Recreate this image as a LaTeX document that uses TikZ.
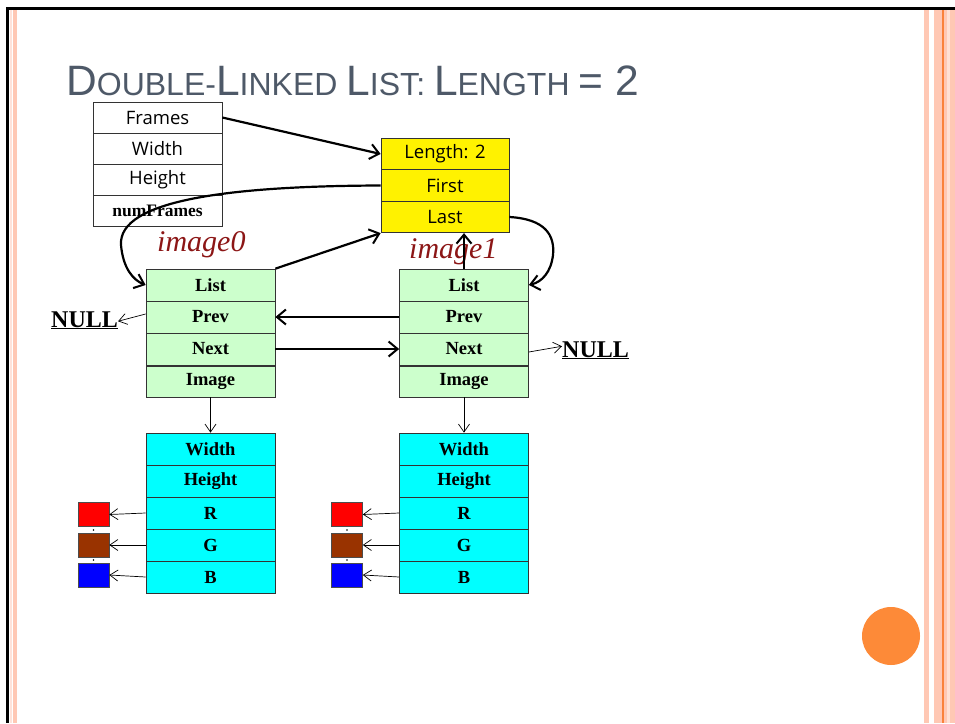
\documentclass[tikz,border=0pt]{standalone}
\usepackage{fontspec}
\setmainfont{Liberation Serif}
\setsansfont{Open Sans}
\newfontfamily\titlefont{Liberation Sans}
\usetikzlibrary{arrows.meta}

\definecolor{slidetitle}{RGB}{78,89,104}
\definecolor{stripe}{RGB}{255,200,180}
\definecolor{stripeline}{RGB}{250,130,60}
\definecolor{bullet}{RGB}{253,138,56}
\definecolor{varred}{RGB}{140,22,22}
\definecolor{nodegreen}{RGB}{204,255,204}
\definecolor{nodecyan}{RGB}{0,255,255}
\definecolor{brownish}{RGB}{153,51,0}

\newcommand\tcap[1]{{\fontsize{42.5}{44}\selectfont #1}}

\begin{document}
\begin{tikzpicture}[x=1pt,y=-1pt,
	field/.style={draw=black!80,line width=0.7pt,minimum width=129pt,minimum height=32pt,inner sep=0pt},
	sanslabel/.style={font=\sffamily\fontsize{18.5}{20}\selectfont},
	boldlabel/.style={font=\fontsize{18.5}{20}\selectfont\bfseries},
	swatch/.style={draw=black!70,line width=0.6pt,minimum width=31pt,minimum height=24pt,inner sep=0pt},
	link/.style={line width=2.2pt,-{Straight Barb[length=9pt,width=15pt,line width=2pt]}},
	ptr/.style={line width=0.7pt,-{Straight Barb[length=8pt,width=11pt,line width=0.7pt]}},
	nullval/.style={font=\fontsize{24}{26}\selectfont\bfseries,inner sep=0pt},
	varname/.style={font=\fontsize{30}{32}\selectfont\itshape,text=varred,inner sep=0pt,anchor=base west}]

	\useasboundingbox (0,0) rectangle (955,723);
	\fill[white] (0,0) rectangle (955,723);

	\fill[black] (6,6.5) rectangle (955,9.5);
	\fill[black] (6,6.5) rectangle (8.5,723);
	\fill[stripe!50] (10,9.5) rectangle (12,723);
	\fill[stripe] (12.7,9.5) rectangle (17.3,723);
	\fill[stripe] (924,9.5) rectangle (929,723);
	\fill[stripe] (934,9.5) rectangle (942,723);
	\fill[stripeline] (942,9.5) rectangle (944,723);
	\fill[stripe] (944,9.5) rectangle (955,723);
	\fill[stripe!55] (947,9.5) rectangle (949.5,723);
	\fill[bullet] (891,636) circle (29);

	\node[anchor=base west,inner sep=0pt,text=slidetitle,font=\titlefont\fontsize{32}{34}\selectfont] (title) at (66,95)
		{\tcap{D}OUBLE-\tcap{L}INKED \tcap{L}IST: \tcap{L}ENGTH \tcap{= 2}};

	\node[field,fill=white,sanslabel,minimum height=31pt] (fr) at (157.5,117.5) {Frames};
	\node[field,fill=white,sanslabel,minimum height=31pt] (wd) at (157.5,148.5) {Width};
	\node[field,fill=white,sanslabel,minimum height=31pt] (ht) at (157.5,179.5) {Height};
	\node[field,fill=white,minimum height=31pt,font=\fontsize{17.5}{18}\selectfont\bfseries] (nf) at (157.5,210.5) {numFrames};

	\node[field,fill=yellow,sanslabel,minimum width=128pt,minimum height=31.5pt] (len) at (445,154) {Length: 2};
	\node[field,fill=yellow,sanslabel,minimum width=128pt,minimum height=31.5pt] (first) at (445,185.5) {First};
	\node[field,fill=yellow,sanslabel,minimum width=128pt,minimum height=31.5pt] (last) at (445,217) {Last};

	\node[varname] (v0) at (157,251) {image0};
	\node[varname] (v1) at (409,258) {image1};

	\node[field,fill=nodegreen,boldlabel] (list0) at (210.5,285) {List};
	\node[field,fill=nodegreen,boldlabel] (prev0) at (210.5,317) {Prev};
	\node[field,fill=nodegreen,boldlabel] (next0) at (210.5,349) {Next};
	\node[field,fill=nodegreen,boldlabel,minimum height=31pt] (img0) at (210.5,381.5) {Image};

	\node[field,fill=nodegreen,boldlabel] (list1) at (464,285) {List};
	\node[field,fill=nodegreen,boldlabel] (prev1) at (464,317) {Prev};
	\node[field,fill=nodegreen,boldlabel] (next1) at (464,349) {Next};
	\node[field,fill=nodegreen,boldlabel,minimum height=31pt] (img1) at (464,381.5) {Image};

	\node[field,fill=nodecyan,boldlabel] (w0) at (210.5,449) {Width};
	\node[field,fill=nodecyan,boldlabel] (h0) at (210.5,481) {Height};
	\node[field,fill=nodecyan,boldlabel] (r0) at (210.5,513) {R};
	\node[field,fill=nodecyan,boldlabel] (g0) at (210.5,545) {G};
	\node[field,fill=nodecyan,boldlabel] (b0) at (210.5,577) {B};

	\node[field,fill=nodecyan,boldlabel] (w1) at (464,449) {Width};
	\node[field,fill=nodecyan,boldlabel] (h1) at (464,481) {Height};
	\node[field,fill=nodecyan,boldlabel] (r1) at (464,513) {R};
	\node[field,fill=nodecyan,boldlabel] (g1) at (464,545) {G};
	\node[field,fill=nodecyan,boldlabel] (b1) at (464,577) {B};

	\node[swatch,fill=red] (sr0) at (93.5,514.5) {};
	\node[swatch,fill=brownish] (sg0) at (93.5,545) {};
	\node[swatch,fill=blue] (sb0) at (93.5,575) {};
	\fill (93.5,530) circle (0.9);
	\fill (93.5,560) circle (0.9);

	\node[swatch,fill=red] (sr1) at (347,514.5) {};
	\node[swatch,fill=brownish] (sg1) at (347,545) {};
	\node[swatch,fill=blue] (sb1) at (347,575) {};
	\fill (347,530) circle (0.9);
	\fill (347,560) circle (0.9);

	\node[nullval,anchor=base west] (nl0) at (51,327) {\underline{NULL}};
	\node[nullval,anchor=base west] (nl1) at (562,357) {\underline{NULL}};

	\draw[link] (fr.east) -- (len.west);
	\draw[link] (first.west) .. controls (230,186) and (118,200) .. (121,245) .. controls (123,268) and (133,280) .. (list0.west);
	\draw[link] (list0.north east) -- (last.south west);
	\draw[link] (last.east) .. controls (545,219) and (555,235) .. (553,255) .. controls (551,272) and (542,282) .. (list1.east);
	\draw[link] (list1.north) -- (list1.north |- last.south);
	\draw[link] (prev1.west) -- (prev0.east);
	\draw[link] (next0.east) -- (next1.west);

	\draw[ptr] ([yshift=3pt]prev0.west) -- ([yshift=-1pt]nl0.east);
	\draw[ptr] ([yshift=-3pt]next1.east) -- ([yshift=4pt]nl1.west);
	\draw[ptr] (img0.south) -- (w0.north);
	\draw[ptr] (img1.south) -- (w1.north);

	\draw[ptr] (r0.west) -- (sr0.east);
	\draw[ptr] (g0.west) -- (sg0.east);
	\draw[ptr] (b0.west) -- (sb0.east);
	\draw[ptr] (r1.west) -- (sr1.east);
	\draw[ptr] (g1.west) -- (sg1.east);
	\draw[ptr] (b1.west) -- (sb1.east);

\end{tikzpicture}
\end{document}
